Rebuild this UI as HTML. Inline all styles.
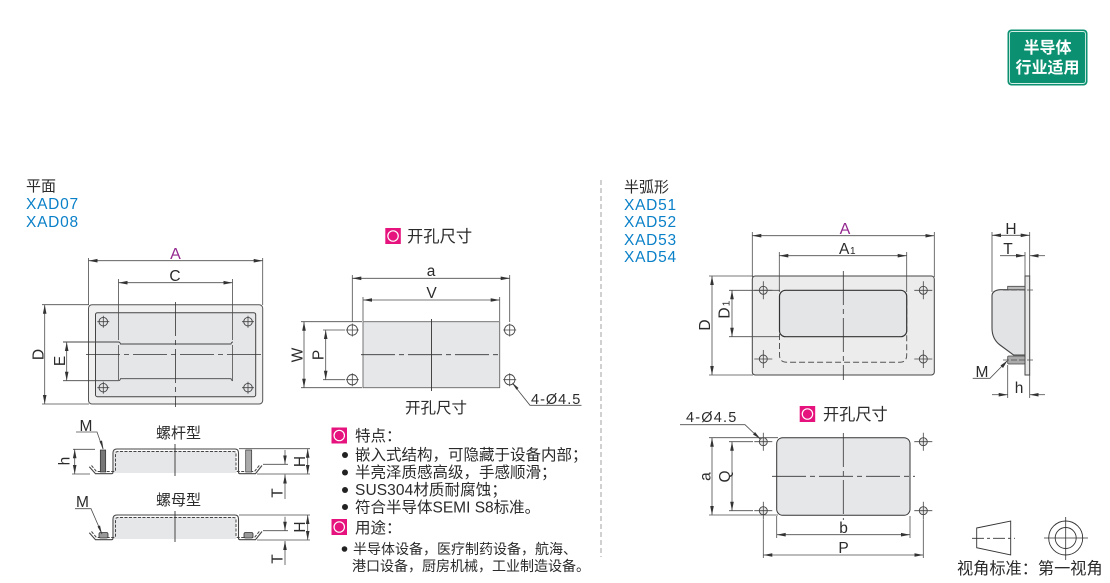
<!DOCTYPE html>
<html lang="zh">
<head>
<meta charset="utf-8">
<title>XAD</title>
<style>
html,body{margin:0;padding:0;background:#fff;}
svg{display:block;}
text{font-family:"Liberation Sans","Noto Sans CJK SC",sans-serif;fill:#2b2b2b;font-size:15px;}
.m{text-anchor:middle;}
.b{fill:#0a80c8;font-size:15.5px;letter-spacing:.75px;}
.p{fill:#93278f;font-size:16px;}
.l{font-size:15.5px;}
.f{font-size:15.5px;}
.d line,.d polyline{stroke:#4d4d4d;stroke-width:.8;fill:none;}
.a{marker-start:url(#as);marker-end:url(#ae);}
.e{marker-end:url(#ae);}
.c{stroke:#333;stroke-width:.8;stroke-dasharray:34 4 5 4;fill:none;}
.v{stroke:#333;stroke-width:.9;fill:none;}
</style>
</head>
<body>
<svg width="1110" height="583" viewBox="0 0 1110 583" xmlns="http://www.w3.org/2000/svg">
<defs>
<marker id="ae" markerUnits="userSpaceOnUse" markerWidth="10" markerHeight="5" refX="9" refY="2.5" orient="auto"><path d="M0,.7L9,2.5L0,4.3z" fill="#333"/></marker>
<marker id="as" markerUnits="userSpaceOnUse" markerWidth="10" markerHeight="5" refX="0" refY="2.5" orient="auto"><path d="M9,.7L0,2.5L9,4.3z" fill="#333"/></marker>
<g id="h1"><circle r="4.3" fill="none" stroke="#444" stroke-width=".9"/><path d="M-6 0H6M0-6V6" stroke="#444" stroke-width=".8"/></g>
<g id="h3"><circle r="5.2" fill="none" stroke="#444" stroke-width=".9"/><path d="M-6.5 0H6.5M0-6.5V6.5" stroke="#444" stroke-width=".8"/></g>
<g id="h2"><circle r="4" fill="#e8e8e8" stroke="#444" stroke-width=".9"/><path d="M-9 0H9M0-9V9" stroke="#444" stroke-width=".8"/></g>
<g id="ic"><rect width="15.5" height="16" fill="#e6127d"/><circle cx="7.75" cy="8" r="5.2" fill="none" stroke="#fff" stroke-width="1.2"/></g>
</defs>

<!-- badge -->
<rect x="1007.5" y="29.5" width="80" height="56" rx="4" fill="#0b9171"/>
<rect x="1009.5" y="31.5" width="76" height="52" rx="2.5" fill="none" stroke="#d5efe7" stroke-width=".9"/>
<text x="1047.5" y="53" class="m" style="fill:#fff;font-size:16px;font-weight:bold">半导体</text>
<text x="1047.5" y="73" class="m" style="fill:#fff;font-size:16px;font-weight:bold">行业适用</text>

<!-- titles -->
<text x="26" y="191">平面</text>
<text x="26" y="209" class="b">XAD07</text>
<text x="26" y="227" class="b">XAD08</text>
<text x="624" y="192">半弧形</text>
<text x="624" y="210" class="b">XAD51</text>
<text x="624" y="227" class="b">XAD52</text>
<text x="624" y="245" class="b">XAD53</text>
<text x="624" y="262" class="b">XAD54</text>

<line x1="601" y1="180" x2="601" y2="557" stroke="#999" stroke-width=".9" stroke-dasharray="5 3"/>

<!-- ===== left top view ===== -->
<rect x="88.5" y="304.7" width="174.2" height="99.3" rx="3.5" fill="#f0f0f1" stroke="#555" stroke-width="1"/>
<rect x="95.5" y="312.7" width="160.2" height="84" rx="2" fill="#e5e6e8" stroke="#444" stroke-width="1"/>
<use href="#h1" x="103.3" y="321.7"/><use href="#h1" x="248" y="321.7"/>
<use href="#h1" x="103.3" y="387.7"/><use href="#h1" x="248" y="387.7"/>
<g class="d">
<line x1="88.5" y1="258" x2="88.5" y2="305"/><line x1="262.7" y1="258" x2="262.7" y2="305"/>
<line class="a" x1="88.5" y1="260.7" x2="262.7" y2="260.7"/>
<line x1="118.5" y1="279" x2="118.5" y2="340"/><line x1="232.5" y1="279" x2="232.5" y2="340"/>
<line x1="118.5" y1="345" x2="118.5" y2="380"/><line x1="232.5" y1="345" x2="232.5" y2="380"/>
<line class="a" x1="118.5" y1="282.7" x2="232.5" y2="282.7"/>
<line x1="42" y1="304.7" x2="89" y2="304.7"/><line x1="42" y1="404" x2="89" y2="404"/>
<line class="a" x1="44.7" y1="304.7" x2="44.7" y2="404"/>
<line class="a" x1="66.7" y1="342" x2="66.7" y2="380.7"/>
</g>
<path d="M63 342H118.5q1.5 0 2 2H231q.5-2 2-2M63 380.7H118.5q1.5 0 2-2H231q.5 2 2 2" fill="none" stroke="#444" stroke-width=".9"/>
<line x1="175.5" y1="302" x2="175.5" y2="407" class="c"/>
<line x1="86" y1="354.5" x2="265" y2="354.5" class="c"/>
<text x="175.5" y="259" class="m p">A</text>
<text x="175" y="281" class="m l">C</text>
<text transform="translate(43.5 354.5) rotate(-90)" class="m l">D</text>
<text transform="translate(65 361) rotate(-90)" class="m l">E</text>

<!-- ===== screw section ===== -->
<text x="178.5" y="438" class="m">螺杆型</text>
<path d="M114 451H236V473H114z" fill="#e6e7e9"/>
<path d="M89.3 466.7L95.5 473.7H111.5Q113 473.7 113 472V453Q113 449 117 449H235Q238.5 449 238.5 453V472Q238.5 473.7 240 473.7H255.5L262 465.5" fill="none" stroke="#444" stroke-width="1.1"/>
<path d="M91.5 465.5L96.5 471.5H113.5Q115.5 471.5 115.5 470V454Q115.5 451.5 118 451.5H233.5Q236 451.5 236 454V470Q236 471.5 238 471.5H254.5L260 464.5" fill="none" stroke="#444" stroke-width="1" stroke-dasharray="3 1.5"/>
<rect x="100.3" y="450" width="5.4" height="22" fill="#777" stroke="#333" stroke-width=".7"/>
<rect x="245.7" y="450" width="6" height="22" fill="#aaa" stroke="#333" stroke-width=".7"/>
<g class="d">
<line x1="73" y1="449.3" x2="95" y2="449.3"/><line x1="72" y1="474" x2="90" y2="474"/>
<line class="a" x1="74.7" y1="449.3" x2="74.7" y2="474"/>
<line x1="239" y1="448.7" x2="310" y2="448.7"/><line x1="257" y1="474" x2="310" y2="474"/>
<line class="a" x1="307.7" y1="448.7" x2="307.7" y2="474"/>
<line x1="263" y1="464.3" x2="288" y2="464.3"/>
<line class="e" x1="285" y1="450" x2="285" y2="464.3"/>
<line class="e" x1="285" y1="499" x2="285" y2="474.5"/>
<polyline points="76,432 97,432 103,449" />
</g>
<path d="M103.5 449.5L99.5 441.5L102 440.5z" fill="#333"/>
<line x1="175" y1="444" x2="175" y2="476" class="v"/>
<text x="86" y="431" class="m l">M</text>
<text transform="translate(69.5 461) rotate(-90)" class="m l">h</text>
<text transform="translate(305 461.5) rotate(-90)" class="m l">H</text>
<text transform="translate(282.5 493) rotate(-90)" class="m l">T</text>

<!-- ===== nut section ===== -->
<text x="178.5" y="505" class="m">螺母型</text>
<path d="M114 517H236V539H114z" fill="#e6e7e9"/>
<path d="M89.3 532.7L95.5 539.7H111.5Q113 539.7 113 538V519Q113 515 117 515H235Q238.5 515 238.5 519V538Q238.5 539.7 240 539.7H255.5L262 531.5" fill="none" stroke="#444" stroke-width="1.1"/>
<path d="M91.5 531.5L96.5 537.5H113.5Q115.5 537.5 115.5 536V520Q115.5 517.5 118 517.5H233.5Q236 517.5 236 520V536Q236 537.5 238 537.5H254.5L260 530.5" fill="none" stroke="#444" stroke-width="1" stroke-dasharray="3 1.5"/>
<rect x="99" y="532.5" width="9" height="5.5" rx="1.5" fill="#999" stroke="#333" stroke-width=".8"/>
<rect x="244" y="532.5" width="9" height="5.5" rx="1.5" fill="#999" stroke="#333" stroke-width=".8"/>
<g class="d">
<line x1="239" y1="515" x2="310" y2="515"/><line x1="257" y1="540" x2="310" y2="540"/>
<line class="a" x1="307.7" y1="515" x2="307.7" y2="540"/>
<line x1="263" y1="530.7" x2="288" y2="530.7"/>
<line class="e" x1="285" y1="516.7" x2="285" y2="530.7"/>
<line class="e" x1="285" y1="565" x2="285" y2="541"/>
<polyline points="75,508.7 91,508.7 102,534"/>
</g>
<path d="M102 534.5L97.5 526.5L100 525.5z" fill="#333"/>
<line x1="175" y1="511" x2="175" y2="542" class="v"/>
<text x="82.5" y="507" class="m l">M</text>
<text transform="translate(305 527) rotate(-90)" class="m l">H</text>
<text transform="translate(282.5 559) rotate(-90)" class="m l">T</text>

<!-- ===== cutout left ===== -->
<use href="#ic" x="385.3" y="228"/>
<text x="407" y="242" style="font-size:16.3px">开孔尺寸</text>
<rect x="363" y="321.7" width="136.7" height="66" fill="#e6e7e9" stroke="#666" stroke-width=".9"/>
<use href="#h3" x="352.3" y="330"/><use href="#h3" x="509.7" y="330"/>
<use href="#h3" x="352.3" y="379.7"/><use href="#h3" x="509.7" y="379.7"/>
<g class="d">
<line x1="352.3" y1="275" x2="352.3" y2="322"/><line x1="509.7" y1="275" x2="509.7" y2="322"/>
<line class="a" x1="352.3" y1="278.3" x2="509.7" y2="278.3"/>
<line x1="363" y1="297" x2="363" y2="321"/><line x1="499.7" y1="297" x2="499.7" y2="321"/>
<line class="a" x1="363" y1="300" x2="499.7" y2="300"/>
<line x1="301" y1="321.7" x2="362" y2="321.7"/><line x1="301" y1="387.7" x2="362" y2="387.7"/>
<line class="a" x1="304" y1="321.7" x2="304" y2="387.7"/>
<line x1="323" y1="330" x2="345" y2="330"/><line x1="323" y1="379.7" x2="345" y2="379.7"/>
<line class="a" x1="325.7" y1="330" x2="325.7" y2="379.7"/>
<polyline points="581.5,405.3 530,405.3 513,384"/>
</g>
<path d="M512 382.5L518.5 388L516.5 389.8z" fill="#333"/>
<line x1="431.5" y1="319" x2="431.5" y2="391" class="v"/>
<line x1="361" y1="354.7" x2="502" y2="354.7" class="c"/>
<text x="431" y="276" class="m l">a</text>
<text x="431.5" y="298" class="m l">V</text>
<text transform="translate(302.5 355) rotate(-90)" class="m l">W</text>
<text transform="translate(323.3 355) rotate(-90)" class="m l">P</text>
<text x="531" y="404" style="font-size:14.5px;letter-spacing:1px">4-Ø4.5</text>
<text x="405" y="413" style="font-size:15.5px">开孔尺寸</text>

<!-- ===== features ===== -->
<use href="#ic" x="331.5" y="427.5"/>
<text x="355" y="441" class="f">特点：</text>
<circle cx="345" cy="455" r="3" fill="#222"/>
<text x="355" y="460" class="f">嵌入式结构，可隐藏于设备内部；</text>
<circle cx="345" cy="472.5" r="3" fill="#222"/>
<text x="355" y="477.5" class="f">半亮泽质感高级，手感顺滑；</text>
<circle cx="345" cy="490" r="3" fill="#222"/>
<text x="355" y="495" class="f" style="letter-spacing:.1px">SUS304材质耐腐蚀；</text>
<circle cx="345" cy="507" r="3" fill="#222"/>
<text x="355" y="512.5" class="f">符合半导体SEMI S8标准。</text>
<use href="#ic" x="331.5" y="519"/>
<text x="355" y="533" class="f">用途：</text>
<circle cx="344.5" cy="549" r="2.8" fill="#222"/>
<text x="353" y="554" style="font-size:14px">半导体设备，医疗制药设备，航海、</text>
<text x="352" y="571" style="font-size:14px">港口设备，厨房机械，工业制造设备。</text>

<!-- ===== right top view ===== -->
<rect x="752.3" y="276" width="182" height="99" rx="3" fill="#ececed" stroke="#444" stroke-width="1"/>
<path d="M779.5 298Q779.5 291 786 291V290.5M779.5 298V355Q779.5 362.3 787 362.3H900Q906.7 362.3 906.7 355V298" fill="none" stroke="#555" stroke-width="1" stroke-dasharray="6 3"/>
<rect x="779.5" y="290.3" width="127.2" height="46.4" rx="6" fill="#e4e5e7" stroke="#333" stroke-width="1.2"/>
<use href="#h2" x="763.3" y="290.3"/><use href="#h2" x="923.3" y="290.3"/>
<use href="#h2" x="763.3" y="359"/><use href="#h2" x="923.3" y="359"/>
<g class="d">
<line x1="752.3" y1="232" x2="752.3" y2="277"/><line x1="934.3" y1="232" x2="934.3" y2="277"/>
<line class="a" x1="752.3" y1="235.7" x2="934.3" y2="235.7"/>
<line x1="779.3" y1="252" x2="779.3" y2="292"/><line x1="906.7" y1="252" x2="906.7" y2="292"/>
<line class="a" x1="779.3" y1="255.7" x2="906.7" y2="255.7"/>
<line x1="709" y1="276" x2="753" y2="276"/><line x1="709" y1="375" x2="753" y2="375"/>
<line class="a" x1="712" y1="276" x2="712" y2="375"/>
<line x1="729" y1="290.3" x2="780" y2="290.3"/><line x1="729" y1="336.7" x2="780" y2="336.7"/>
<line class="a" x1="732" y1="290.3" x2="732" y2="336.7"/>
</g>
<line x1="843.3" y1="271" x2="843.3" y2="380" class="c"/>
<text x="845" y="234" class="m p">A</text>
<text x="839" y="254" class="l">A</text><text x="850" y="254" style="font-size:10px">1</text>
<text transform="translate(710 325) rotate(-90)" class="m l">D</text>
<text transform="translate(729.5 313) rotate(-90)" class="l" style="text-anchor:middle">D</text>
<text transform="translate(729.5 303.5) rotate(-90)" style="font-size:10px;text-anchor:middle">1</text>

<!-- ===== right side view ===== -->
<path d="M992 296Q992 290.5 1000 289.7H1025V355H1013.5L1000 345Q992 339 992 328z" fill="#e2e3e5" stroke="#444" stroke-width="1.1"/>
<rect x="1025" y="276" width="4.7" height="99" fill="#e8e8e9" stroke="#444" stroke-width="1"/>
<rect x="1007.7" y="286.3" width="17.3" height="3.4" fill="#bbb" stroke="#444" stroke-width=".8"/>
<rect x="1007.7" y="356" width="17.3" height="8" rx="1" fill="#aaa" stroke="#444" stroke-width=".8"/>
<g class="d">
<line x1="992" y1="232" x2="992" y2="292"/><line x1="1029.7" y1="232" x2="1029.7" y2="276"/>
<line class="a" x1="992" y1="235.3" x2="1029.7" y2="235.3"/>
<line x1="1025" y1="252" x2="1025" y2="276"/>
<line class="e" x1="1000" y1="255.7" x2="1025" y2="255.7"/>
<line class="e" x1="1045" y1="255.7" x2="1029.7" y2="255.7"/>
<line x1="1007.7" y1="365" x2="1007.7" y2="398"/><line x1="1029.7" y1="375" x2="1029.7" y2="398"/>
<line class="e" x1="992" y1="394.7" x2="1007.7" y2="394.7"/>
<line class="e" x1="1045" y1="394.7" x2="1029.7" y2="394.7"/>
<line x1="1003" y1="290" x2="1034" y2="290" stroke-dasharray="6 2"/>
<line x1="1003" y1="360" x2="1034" y2="360" stroke-dasharray="6 2"/>
<polyline points="972.7,378.3 990,378.3 1007,361"/>
</g>
<path d="M1007.5 360.5L1003 368L1000.5 365.5z" fill="#333"/>
<text x="1011" y="234" class="m l">H</text>
<text x="1008" y="254" class="m l">T</text>
<text x="1019" y="393" class="m l">h</text>
<text x="982" y="377" class="m l">M</text>

<!-- ===== right cutout ===== -->
<use href="#ic" x="799.7" y="406"/>
<text x="823" y="420" style="font-size:16.2px">开孔尺寸</text>
<rect x="776.7" y="437.7" width="133.3" height="77.6" rx="6" fill="#e6e7e9" stroke="#333" stroke-width="1"/>
<use href="#h2" x="763.3" y="441.7"/><use href="#h2" x="923.3" y="441.7"/>
<use href="#h2" x="763.3" y="510.7"/><use href="#h2" x="923.3" y="510.7"/>
<g class="d">
<line x1="709" y1="437.7" x2="778" y2="437.7"/><line x1="709" y1="515" x2="778" y2="515"/>
<line class="a" x1="712" y1="437.7" x2="712" y2="515"/>
<line x1="729" y1="441.7" x2="753" y2="441.7"/><line x1="729" y1="510.7" x2="753" y2="510.7"/>
<line class="a" x1="732" y1="441.7" x2="732" y2="510.7"/>
<line x1="776.7" y1="516" x2="776.7" y2="538"/><line x1="910" y1="516" x2="910" y2="538"/>
<line class="a" x1="776.7" y1="534.7" x2="910" y2="534.7"/>
<line x1="763.3" y1="520" x2="763.3" y2="558"/><line x1="923.3" y1="520" x2="923.3" y2="558"/>
<line class="a" x1="763.3" y1="555" x2="923.3" y2="555"/>
<polyline points="680,424.7 745,424.7 760,439"/>
</g>
<path d="M760.5 439L753 434.5L755 432z" fill="#333"/>
<line x1="843.3" y1="433" x2="843.3" y2="520" class="c"/>
<line x1="772" y1="476.3" x2="915" y2="476.3" class="c"/>
<text x="843.5" y="533" class="m l">b</text>
<text x="843.5" y="553" class="m l">P</text>
<text transform="translate(710.5 476.5) rotate(-90)" class="m l">a</text>
<text transform="translate(730 476.5) rotate(-90)" class="m l">Q</text>
<text x="686" y="422" style="font-size:14.5px;letter-spacing:1.2px">4-Ø4.5</text>

<!-- ===== projection symbol ===== -->
<path d="M976.7 528L1010.7 521V555L976.7 547.7z" fill="none" stroke="#333" stroke-width=".9"/>
<line x1="972" y1="538.3" x2="1015" y2="538.3" stroke="#333" stroke-width=".8" stroke-dasharray="12 3 3 3"/>
<circle cx="1065.7" cy="538" r="17" fill="none" stroke="#333" stroke-width=".9"/>
<circle cx="1065.7" cy="538" r="10.5" fill="none" stroke="#333" stroke-width=".9"/>
<path d="M1044 538H1088M1065.7 517V560" stroke="#333" stroke-width=".8"/>
<text x="957" y="574" style="font-size:16.2px">视角标准：第一视角</text>
</svg>
</body>
</html>
